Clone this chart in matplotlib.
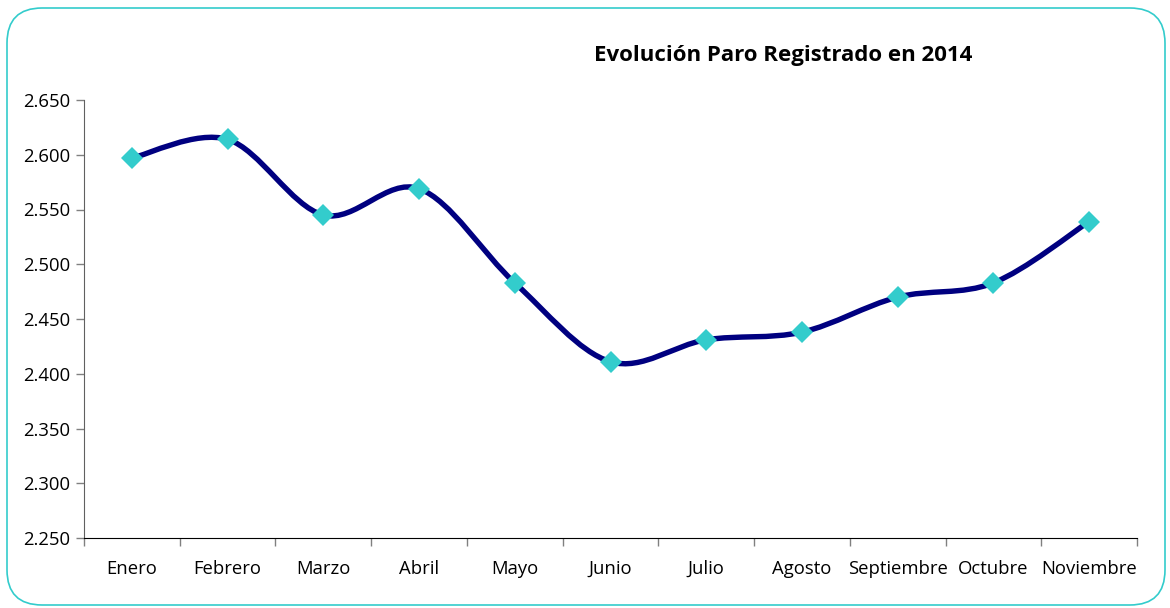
import matplotlib
matplotlib.use('Agg')
import matplotlib.pyplot as plt
import numpy as np
from matplotlib.patches import FancyBboxPatch, PathPatch
from matplotlib.path import Path
from matplotlib.ticker import FuncFormatter, FixedLocator

plt.rcParams['font.family'] = ['Open Sans', 'DejaVu Sans']

MONTHS = ['Enero', 'Febrero', 'Marzo', 'Abril', 'Mayo', 'Junio', 'Julio',
          'Agosto', 'Septiembre', 'Octubre', 'Noviembre']
# Registered unemployment (thousands)
PARO = [2597, 2614, 2545, 2569, 2483, 2411, 2431, 2438, 2470, 2483, 2539]
TITLE = 'Evolución Paro Registrado en 2014'

LINE = '#000080'
MARK = '#33CCCC'


def smooth_path(x, y, k=1 / 6):
    # Catmull-Rom style bezier through the data points (like Excel's smoothed line)
    x = np.asarray(x, float)
    y = np.asarray(y, float)
    n = len(x)
    verts = [(x[0], y[0])]
    codes = [Path.MOVETO]
    for i in range(n - 1):
        i0 = max(i - 1, 0)
        i3 = min(i + 2, n - 1)
        c1 = (x[i] + (x[i + 1] - x[i0]) * k, y[i] + (y[i + 1] - y[i0]) * k)
        c2 = (x[i + 1] - (x[i3] - x[i]) * k, y[i + 1] - (y[i3] - y[i]) * k)
        verts += [c1, c2, (x[i + 1], y[i + 1])]
        codes += [Path.CURVE4] * 3
    return Path(verts, codes)


def main():
    fig = plt.figure(figsize=(11.7, 6.08), dpi=100)

    # rounded chart-area border
    border = FancyBboxPatch((7 / 1170, 3 / 608), 1158 / 1170, 597 / 608,
                            boxstyle='round,pad=0,rounding_size=0.03',
                            transform=fig.transFigure, facecolor='none',
                            edgecolor=MARK, linewidth=1.2,
                            mutation_aspect=1170 / 608, zorder=-1)
    fig.patches.append(border)

    ax = fig.add_axes([84 / 1170, 70 / 608, 1053 / 1170, 438 / 608])
    ax.set_facecolor('none')

    xs = np.arange(len(MONTHS))
    ax.add_patch(PathPatch(smooth_path(xs, PARO), facecolor='none',
                           edgecolor=LINE, linewidth=3.9, capstyle='round',
                           joinstyle='round', zorder=2))
    ax.plot(xs, PARO, linestyle='none', marker='D', markersize=11.5,
            markerfacecolor=MARK, markeredgewidth=0, zorder=3)

    ax.set_xlim(-0.5, len(MONTHS) - 0.5)
    ax.set_ylim(2250, 2650)
    ax.yaxis.set_major_locator(FixedLocator(np.arange(2250, 2651, 50)))
    ax.yaxis.set_major_formatter(FuncFormatter(lambda v, p: '{:.3f}'.format(v / 1000)))
    ax.set_xticks(xs)
    ax.set_xticklabels(MONTHS)
    ax.xaxis.set_minor_locator(FixedLocator(np.arange(-0.5, len(MONTHS), 1)))
    ax.tick_params(axis='x', which='major', length=0, pad=26, labelsize=13.3)
    ax.tick_params(axis='x', which='minor', length=6, width=1, color='#808080')
    ax.tick_params(axis='y', length=6, width=1, color='#808080', labelsize=13.3,
                   pad=4)
    for lab in ax.get_xticklabels():
        lab.set_verticalalignment('baseline')

    for side in ('top', 'right'):
        ax.spines[side].set_visible(False)
    ax.spines['left'].set_color('#606060')
    ax.spines['bottom'].set_color('black')

    fig.text(783 / 1170, 1 - 55 / 608, TITLE, ha='center', va='center',
             fontsize=16, fontweight='bold')

    fig.savefig('out.png', dpi=100)


if __name__ == '__main__':
    main()
